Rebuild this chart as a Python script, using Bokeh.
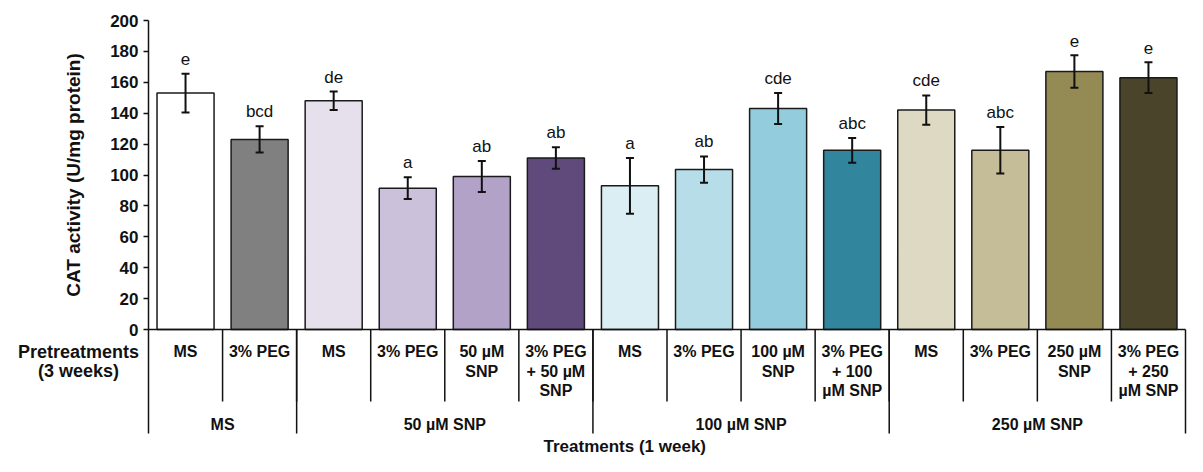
import numpy as np
from bokeh.plotting import figure
from bokeh.models import (Range1d, FixedTicker, ColumnDataSource, Whisker, TeeHead)
from bokeh.core.properties import value
from bokeh.embed import file_html
from bokeh.resources import INLINE

# ---- data ----
pretreatments = ["MS", "3% PEG", "MS", "3% PEG", "50 µM\nSNP", "3% PEG\n+ 50 µM\nSNP",
                 "MS", "3% PEG", "100 µM\nSNP", "3% PEG\n+ 100\nµM SNP",
                 "MS", "3% PEG", "250 µM\nSNP", "3% PEG\n+ 250\nµM SNP"]
treatments = ["MS", "50 µM SNP", "100 µM SNP", "250 µM SNP"]
group_sizes = [2, 4, 4, 4]
cat_activity = [153, 123, 148, 91.5, 99, 111, 93, 103.5, 143, 116, 142, 116, 167, 163]
errors = [12.5, 8.5, 6, 7, 10, 7, 18, 8.5, 10, 8, 9.5, 15, 10.5, 10]
letters = ["e", "bcd", "de", "a", "ab", "ab", "a", "ab", "cde", "abc", "cde", "abc", "e", "e"]
colors = ["#FFFFFF", "#808080", "#E6E0EC", "#CCC1DA", "#B3A2C7", "#604A7B",
          "#DBEEF4", "#B7DEE8", "#93CDDD", "#31859C",
          "#DDD9C3", "#C4BD97", "#948A54", "#4A452A"]
y_ticks = [0, 20, 40, 60, 80, 100, 120, 140, 160, 180, 200]

FONT = "Liberation Sans"
TXT = "#111111"
n = len(cat_activity)
x = np.arange(n)
vals = np.array(cat_activity)
errs = np.array(errors)

W, H = 1187, 456
X0, X1 = 148, 1185       # screen x of the left / right category edges
Y200, Y0 = 20, 329       # screen y of value 200 / 0
kx = (X1 - X0) / n
ky = (Y0 - Y200) / 200.0
x_start = -0.5 - X0 / kx
x_end = n - 0.5 + (W - X1) / kx
y_end = 200 + Y200 / ky
y_start = -(H - Y0) / ky

def px_down(py):
    """screen distance below the zero line -> data units"""
    return -py / ky

def px_left(pxl):
    return -0.5 - pxl / kx

p = figure(width=W, height=H, output_backend="svg", toolbar_location=None,
           x_range=Range1d(x_start, x_end), y_range=Range1d(y_start, y_end),
           min_border_left=0, min_border_right=0, min_border_top=0, min_border_bottom=0)
p.grid.visible = False
p.outline_line_color = None
p.xaxis.visible = False

yax = p.yaxis[0]
yax.fixed_location = -0.5
yax.bounds = (0, 200)
yax.ticker = FixedTicker(ticks=y_ticks)
yax.minor_tick_line_color = None
yax.major_tick_in = 0
yax.major_tick_out = 5
yax.major_tick_line_width = 1.5
yax.major_tick_line_color = TXT
yax.axis_line_width = 1.5
yax.axis_line_color = TXT
yax.major_label_text_font = FONT
yax.major_label_text_font_style = "bold"
yax.major_label_text_font_size = "17px"
yax.major_label_text_color = TXT
yax.major_label_standoff = 5

src = ColumnDataSource(dict(x=x, top=vals, color=colors,
                            upper=vals + errs, lower=vals - errs,
                            ly=vals + errs + 9.4, letter=letters))
p.vbar(x="x", top="top", bottom=0, width=0.77, fill_color="color", line_color="#1a1a1a",
       line_width=1.5, source=src)
p.add_layout(Whisker(base="x", upper="upper", lower="lower", source=src, dimension="height",
                     level="annotation", line_width=2, line_color="#111111",
                     upper_head=TeeHead(size=8, line_width=2, line_color="#111111"),
                     lower_head=TeeHead(size=8, line_width=2, line_color="#111111")))
# significance letters
p.text(x="x", y="ly", text="letter", source=src,
       text_align="center", text_baseline="middle", text_font=value(FONT),
       text_font_size="17px", text_color=TXT)

# baseline
p.segment(x0=[-0.5], y0=[0], x1=[n - 0.5], y1=[0], line_color=TXT, line_width=1.5)
# row-1 separators
row1_bottom = px_down(72)
row2_bottom = px_down(104)
sep_x = [i + 0.5 for i in range(n - 1)]
p.segment(x0=sep_x, y0=[0] * len(sep_x), x1=sep_x, y1=[row1_bottom] * len(sep_x),
          line_color=TXT, line_width=1.5)
# group separators
bounds = np.concatenate([[0], np.cumsum(group_sizes)]) - 0.5
p.segment(x0=bounds, y0=[0] * len(bounds), x1=bounds, y1=[row2_bottom] * len(bounds),
          line_color=TXT, line_width=1.5)

# pretreatment labels (line by line)
lx, ly, lt = [], [], []
line_offsets = [px_down(22), px_down(41.5), px_down(61)]
for i, lab in enumerate(pretreatments):
    for j, part in enumerate(lab.split("\n")):
        lx.append(i); ly.append(line_offsets[j]); lt.append(part)
p.text(x=lx, y=ly, text=lt, text_align="center", text_baseline="middle",
       text_font=value(FONT), text_font_style="bold", text_font_size="16px", text_color=TXT)

# treatment group labels
centers = (bounds[:-1] + bounds[1:]) / 2
p.text(x=centers, y=[px_down(95)] * len(centers), text=treatments, text_align="center",
       text_baseline="middle", text_font=value(FONT), text_font_style="bold",
       text_font_size="16px", text_color=TXT)

# row header and axis titles
p.text(x=[px_left(70)] * 2, y=[px_down(22), px_down(41)],
       text=["Pretreatments", "(3 weeks)"], text_align="center", text_baseline="middle",
       text_font=value(FONT), text_font_style="bold", text_font_size="18px", text_color=TXT)
p.text(x=[px_left(75)], y=[100], text=["CAT activity (U/mg protein)"], angle=np.pi / 2,
       text_align="center", text_baseline="middle", text_font=value(FONT),
       text_font_style="bold", text_font_size="19px", text_color=TXT)
p.text(x=[5.93], y=[px_down(117)], text=["Treatments (1 week)"], text_align="center",
       text_baseline="middle", text_font=value(FONT), text_font_style="bold",
       text_font_size="17px", text_color=TXT)

open("out.html", "w").write(file_html(p, INLINE))
